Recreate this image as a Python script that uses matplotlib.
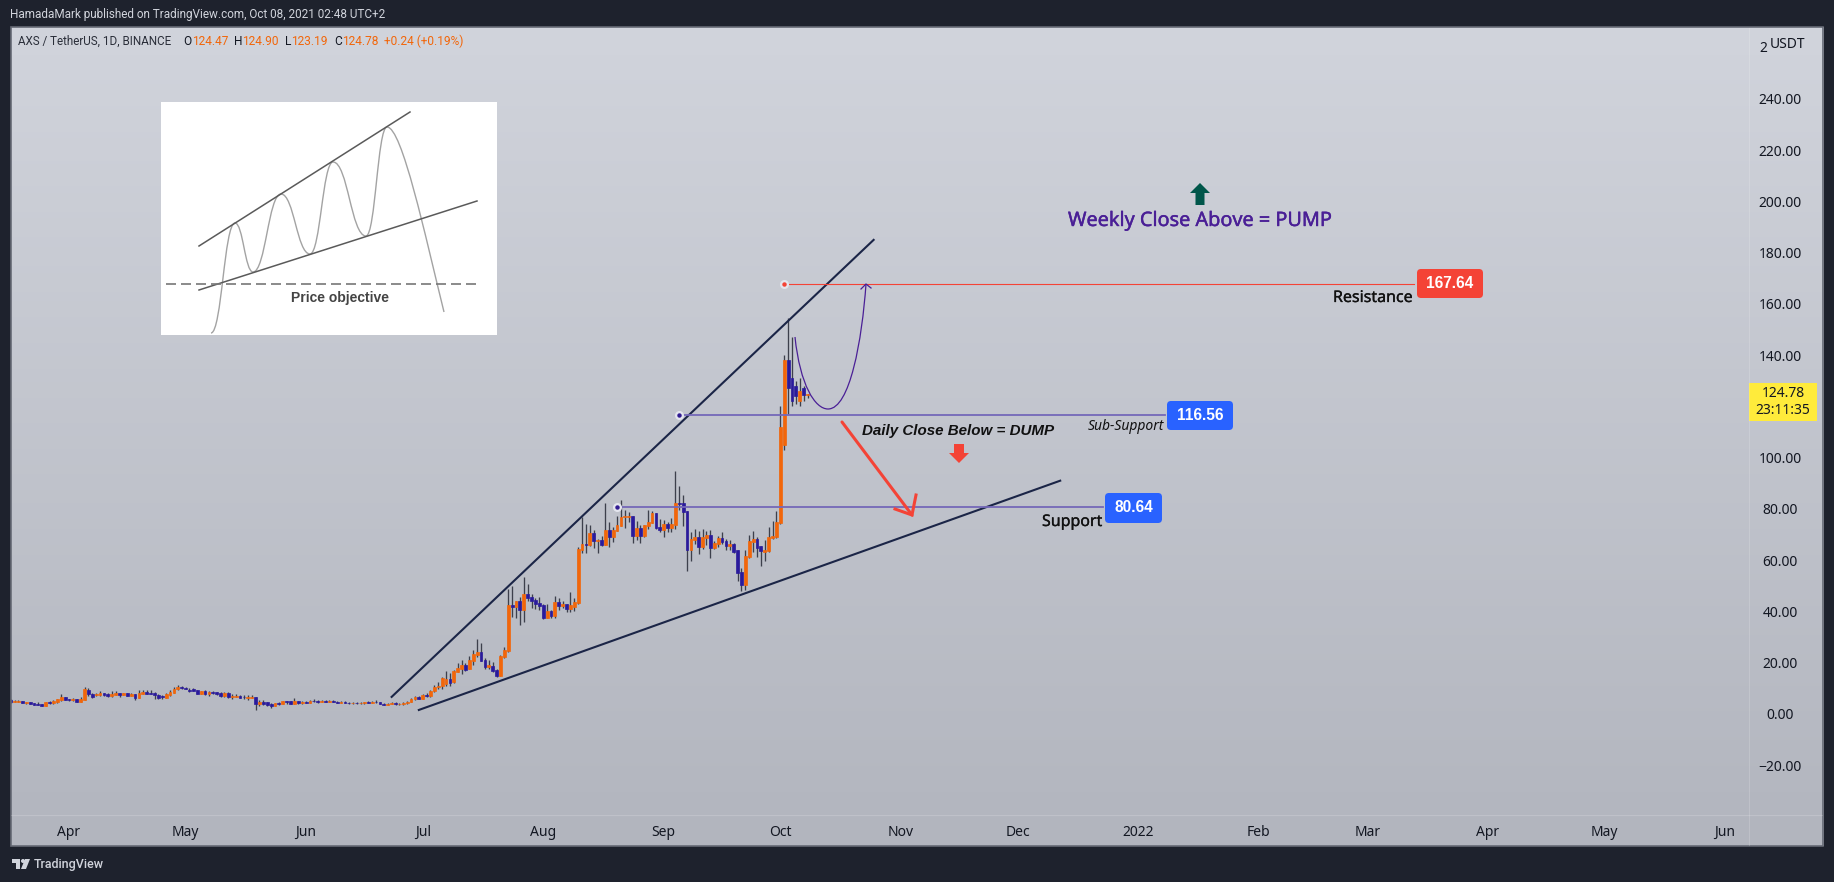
import numpy as np
import pandas as pd
import matplotlib
matplotlib.use("Agg")
import matplotlib.pyplot as plt
import matplotlib.patheffects as pe
from matplotlib.patches import FancyBboxPatch, Rectangle, Polygon, PathPatch, Circle
from matplotlib.path import Path

W, H = 1834, 882
plt.rcParams["font.family"] = ["Noto Sans", "DejaVu Sans"]
NARROW = ["Roboto", "DejaVu Sans"]
HEAVY = ["Liberation Sans", "DejaVu Sans"]

# daily AXS/USDT candles
opens = [
    5.4,4.75,4.75,5.0,4.35,4.5,4.2,3.85,3.85,3.2, 4.6,4.35,4.6,5.5,6.4,5.8,5.4,5.8,4.75,5.5,
    9.3,7.9,7.2,7.3,8.0,7.6,6.95,7.3,8.0,7.3, 8.0,7.1,7.7,6.3,7.9,8.5,8.1,8.1,7.3,6.8,
    6.3,7.2,8.0,9.5,10.6,10.0,9.3,9.7,9.3,7.9, 8.9,7.7,8.6,8.4,8.1,6.95,8.1,6.7,6.7,7.1,
    6.7,6.3,6.3,6.4,3.85,4.6,4.5,4.0,3.2,4.1, 4.0,4.9,5.0,4.0,4.9,
    4.2,4.7,4.4,5.0,4.9,4.6,5.0,4.8,5.1,4.8, 4.4,4.8,4.4,4.2,4.4,4.1,4.3,4.5,4.3,4.8,
    4.5,4.0,3.6,3.9,4.4,3.7,3.9,4.2,4.8,5.7, 6.4,5.9,7.2,6.9,9.0,10.4,10.9,
    11.8,13.5,12.5,16.5,17.5,19.1,17.4,20.8,23.0,24.1, 21.0,18.4,18.7,17.1,14.8,22.3,24.5,42.5,41.7,44.0,
    40.5,46.8,45.6,44.4,43.3,42.5,37.5,40.2,38.2,43.7, 42.1,42.9,40.9,41.7,43.3,64.0,66.3,65.9,70.7,
    67.6,67.9,65.9,71.8,69.0,71.4,73.4,76.7,77.0,77.2, 69.4,72.5,69.4,73.3,74.5,78.4,72.9,71.8,74.1,72.5,
    73.7,82.3,82.3,79.2,64.0,67.9,69.0,65.1,68.6,69.8, 64.7,66.3,68.6,67.5,65.5,66.3,64.0,55.4,50.3,61.2,
    67.1,68.3,65.5,63.2,63.6,68.6,69.0,
    74.4,105.0,138.0,131.0,128.0,122.0,127.0,124.47,
]
highs = [
    5.8,5.4,5.4,5.0,4.6,4.5,4.2,4.5,3.85,4.5, 5.0,5.4,5.9,7.7,6.4,5.8,6.2,5.8,6.6,10.6,
    9.95,8.25,8.25,8.9,8.25,8.0,8.9,8.9,8.0,8.0, 8.0,8.0,7.7,9.3,9.3,9.3,9.3,8.6,7.7,7.3,
    8.0,9.3,10.3,11.3,11.0,10.6,9.95,10.0,9.3,8.8, 9.3,9.0,9.0,8.6,8.5,8.5,8.5,7.7,7.6,7.3,
    7.3,7.3,7.3,6.4,5.25,5.4,4.75,4.35,4.1,4.6, 4.9,4.9,5.0,6.2,4.9,
    4.9,5.0,5.2,5.6,5.2,5.2,5.3,5.2,5.4,5.0, 5.0,5.1,4.7,4.6,4.8,4.5,4.7,4.9,5.0,5.2,
    4.8,4.3,4.2,4.6,4.5,4.2,4.5,5.0,6.0,6.8, 7.0,7.6,8.2,9.4,11.2,12.5,14.4,
    16.7,15.8,17.0,19.7,21.0,19.7,22.6,24.9,29.2,27.7, 21.7,21.0,20.4,17.5,23.0,26.1,48.9,49.9,44.0,45.6,
    53.4,50.6,46.8,45.1,45.6,42.9,42.9,40.5,46.0,45.1, 44.0,42.9,47.6,45.2,65.1,76.8,74.1,73.7,71.8,
    68.4,69.4,82.3,74.9,72.9,77.2,83.5,79.6,78.8,77.2, 75.3,73.7,73.7,79.6,79.2,78.4,76.0,75.7,74.9,76.4,
    94.8,88.9,85.4,79.2,71.0,72.2,71.4,72.2,71.4,71.8, 67.5,69.4,71.0,68.2,67.9,66.7,64.0,56.9,64.0,69.8,
    71.4,69.0,65.5,67.9,72.9,75.3,79.2,
    120.0,140.0,154.5,147.0,130.0,131.0,128.0,124.9,
]
lows = [
    4.35,4.5,4.5,4.35,3.85,3.85,3.6,3.3,3.2,3.2, 3.7,3.85,4.35,5.1,5.5,5.0,5.0,4.75,4.6,5.5,
    7.1,6.3,7.1,7.1,6.8,6.4,6.7,7.3,6.7,7.3, 7.1,6.95,5.5,6.2,7.9,7.9,7.9,5.8,5.9,5.8,
    6.2,6.95,8.0,9.3,9.6,9.5,8.5,9.0,7.7,7.9, 7.2,6.95,7.7,7.3,6.6,6.4,6.0,5.8,6.4,6.0,
    5.8,5.4,6.2,1.5,3.05,3.3,3.05,2.4,3.2,3.45, 4.0,3.85,3.85,3.85,3.85,
    4.0,4.3,4.3,4.7,4.4,4.5,4.6,4.5,4.7,4.2, 4.3,4.2,4.0,3.9,4.0,3.8,4.0,4.2,4.1,4.4,
    3.8,3.4,3.3,3.8,3.5,3.4,3.6,4.0,4.6,5.3, 5.6,5.7,6.6,6.7,8.5,9.8,9.8,
    11.0,10.9,12.0,16.2,15.6,16.9,17.4,19.1,22.3,20.5, 17.4,17.4,16.3,14.3,14.8,21.7,24.3,37.9,37.5,34.7,
    35.9,44.2,41.2,41.1,40.5,37.0,37.4,37.4,37.5,40.5, 41.3,39.8,39.8,40.1,42.9,62.8,62.8,65.5,64.7,
    62.8,65.5,65.9,65.0,67.1,71.4,73.4,72.5,74.9,66.7, 67.9,66.7,69.0,72.2,74.4,72.2,71.0,69.0,71.0,71.0,
    72.2,79.6,73.3,55.7,59.7,66.3,62.4,64.3,65.9,60.8, 64.3,65.1,66.3,64.0,64.0,62.8,51.9,47.9,48.3,60.8,
    63.2,61.2,57.7,59.7,63.2,68.2,68.6,
    73.9,103.0,117.0,120.0,121.0,120.0,122.0,123.19,
]
closes = [
    4.6,5.0,5.0,4.35,4.6,3.85,3.6,3.6,3.2,4.5, 4.2,5.0,5.65,6.6,5.5,5.5,5.8,4.75,5.8,9.7,
    7.7,6.7,7.9,8.0,7.3,6.95,7.6,8.0,7.5,8.0, 7.1,7.7,6.3,8.0,8.5,7.9,7.9,7.2,6.2,6.4,
    7.7,8.5,9.55,10.6,9.9,9.7,8.9,9.0,7.7,8.8, 7.6,8.6,8.1,7.6,6.95,8.1,6.4,6.95,6.95,6.3,
    6.4,6.6,6.6,3.85,4.6,4.0,3.6,3.2,4.1,3.85, 4.9,4.6,3.85,5.0,4.2,
    4.7,4.4,5.0,4.9,4.6,5.0,4.8,5.1,4.8,4.4, 4.8,4.4,4.2,4.4,4.1,4.3,4.5,4.3,4.8,4.5,
    4.0,3.6,3.9,4.4,3.7,3.9,4.2,4.8,5.7,6.4, 5.9,7.2,6.9,9.0,10.4,10.9,13.8,
    13.5,12.0,16.7,17.8,18.9,17.1,21.0,23.4,24.1,20.6, 18.4,18.9,16.7,14.8,22.6,24.9,42.5,41.8,44.0,40.5,
    46.8,45.2,44.0,42.9,42.1,37.4,40.2,38.2,43.7,42.1, 42.9,40.9,42.5,43.7,64.3,66.3,66.0,70.5,67.6,
    67.9,65.9,71.8,69.0,71.8,73.7,76.8,77.2,77.2,69.4, 72.5,69.4,73.7,74.9,78.4,72.5,71.8,74.1,72.5,74.1,
    82.3,81.9,78.8,64.0,68.3,69.0,65.1,69.0,69.8,64.7, 66.7,68.6,67.1,65.5,66.3,63.2,55.0,50.3,61.6,67.5,
    68.3,64.7,63.6,64.0,69.0,69.4,74.9,
    112.0,138.0,127.0,122.0,124.0,126.0,124.5,124.78,
]
first_day = "2021-03-17"

# 120.00 is hidden behind the last-price box in the reference
price_ticks = [-20, 0, 20, 40, 60, 80, 100, 140, 160, 180, 200, 220, 240]
month_dates = ["2021-04-01", "2021-05-01", "2021-06-01", "2021-07-01", "2021-08-01", "2021-09-01",
               "2021-10-01", "2021-11-01", "2021-12-01", "2022-01-01", "2022-02-01", "2022-03-01",
               "2022-04-01", "2022-05-01", "2022-06-01"]
month_labels = ["Apr", "May", "Jun", "Jul", "Aug", "Sep", "Oct", "Nov", "Dec", "2022",
                "Feb", "Mar", "Apr", "May", "Jun"]

# drawn lines: (start day, start price), (end day, end price)
upper_trend_days = ["2021-06-23", "2021-10-25"]
upper_trend_prices = [6.6, 185.0]
lower_trend_days = ["2021-06-30", "2021-12-12"]
lower_trend_prices = [1.5, 91.0]

resistance = 167.64
resistance_days = ["2021-10-02", "2022-03-13"]
sub_support = 116.56
sub_support_days = ["2021-09-05", "2022-01-08"]
support = 80.64
support_days = ["2021-08-20", "2021-12-23"]

ORANGE = "#f2660a"
BLUE = "#2a1a9c"
WICK = "#3d404c"
NAVY = "#1b2547"
INK = "#131722"
RED = "#f44336"
TAG_BLUE = "#2962ff"
PURPLE = "#4a1f96"
LEVEL = "#7468b8"

base = pd.Timestamp("2021-04-01")


def to_x(days):
    return (pd.to_datetime(days) - base).days


dates = pd.date_range(first_day, periods=len(opens))
x = (dates - base).days.values
o, h, l, c = map(np.array, (opens, highs, lows, closes))
up = c >= o

fig = plt.figure(figsize=(W / 100, H / 100), dpi=100, facecolor="#1e222d")

# gradient panel behind everything
bg = fig.add_axes([11 / W, 1 - 846 / H, (1823 - 11) / W, (846 - 27) / H], zorder=0)
bg.imshow(np.linspace(0, 1, 256).reshape(-1, 1), aspect="auto", vmin=0, vmax=1,
          cmap=matplotlib.colors.LinearSegmentedColormap.from_list("tv", ["#d1d4dc", "#b2b5be"]))
bg.axis("off")

ax = fig.add_axes([11 / W, 1 - 815 / H, (1749 - 11) / W, (815 - 27) / H], zorder=1)
ax.patch.set_alpha(0)
ax.set_xlim(-14.92, 432.2)
ax.set_ylim(-39.5, 268.1)
for s in ax.spines.values():
    s.set_visible(False)

ax.vlines(x, l, h, color=WICK, lw=0.95, zorder=2)
ax.bar(x[up], (c - o)[up], bottom=o[up], width=0.72, color=ORANGE, edgecolor=ORANGE, lw=0.5, zorder=3)
ax.bar(x[~up], (o - c)[~up], bottom=c[~up], width=0.72, color=BLUE, edgecolor=BLUE, lw=0.5, zorder=3)

ax.plot(to_x(upper_trend_days), upper_trend_prices, color=NAVY, lw=1.5, zorder=4)
ax.plot(to_x(lower_trend_days), lower_trend_prices, color=NAVY, lw=1.5, zorder=4)
ax.plot(to_x(resistance_days), [resistance] * 2, color=RED, lw=0.8, zorder=4)
ax.plot(to_x(sub_support_days), [sub_support] * 2, color=LEVEL, lw=1.3, zorder=4)
ax.plot(to_x(support_days), [support] * 2, color=LEVEL, lw=1.3, zorder=4)

for days, level, col in [(resistance_days, resistance, RED), (sub_support_days, sub_support, "#311b92"),
                         (support_days, support, "#311b92")]:
    ax.plot(to_x(days)[0], level, "o", ms=6.5, mfc="#e4e5ee", mec="none", zorder=5)
    ax.plot(to_x(days)[0], level, "o", ms=3.2, mfc=col, mec="none", zorder=6)

ax.set_yticks(price_ticks)
ax.set_yticklabels([f"{v:.2f}".replace("-", "\u2212") for v in price_ticks])
ax.yaxis.tick_right()
ax.tick_params(axis="y", length=0, pad=22.3, labelsize=10, labelcolor=INK)
for t in ax.get_yticklabels():
    t.set_ha("center")
ax.set_xticks(to_x(month_dates))
ax.set_xticklabels(month_labels)
ax.tick_params(axis="x", length=0, pad=7, labelsize=10, labelcolor=INK)
for t in ax.get_xticklabels():
    if t.get_text() == "2022":
        t.set_fontweight("bold")

# everything else is laid out in screen pixels
ov = fig.add_axes([0, 0, 1, 1], zorder=2)
ov.set_xlim(0, W)
ov.set_ylim(H, 0)
ov.axis("off")
ov.patch.set_alpha(0)

ov.add_patch(Rectangle((10.5, 27), 1812.5, 819, fc="none", ec="#666a75", lw=1.2))
ov.plot([1749, 1749], [28, 845], color="white", alpha=0.16, lw=0.8)
ov.plot([11, 1822], [815, 815], color="white", alpha=0.16, lw=0.8)


def label(px, py, s, color=INK, size=10, ha="left", va="center", **kw):
    return ov.text(px, py, s, color=color, fontsize=size, ha=ha, va=va, **kw)


thick = [pe.withStroke(linewidth=0.2, foreground="#111111")]
thick_purple = [pe.withStroke(linewidth=0.3, foreground=PURPLE)]

label(10, 14.5, "HamadaMark published on TradingView.com, Oct 08, 2021 02:48 UTC+2", color="#d1d4dc", size=8.5,
      family=NARROW)
label(18, 41.5, "AXS / TetherUS, 1D, BINANCE", size=8.4, color="#2a2e39", family=NARROW)
for px, s, col in [(183, "O", INK), (192, "124.47", ORANGE), (234, "H", INK), (242, "124.90", ORANGE),
                   (285, "L", INK), (291, "123.19", ORANGE), (334, "C", INK),
                   (342, "124.78", ORANGE), (384, "+0.24 (+0.19%)", ORANGE)]:
    label(px, 41.5, s, color=col, size=8.6, family=NARROW)
label(1759, 49, "2", size=10)
label(1770, 44, "USDT", size=10)

# current price box
ov.add_patch(Rectangle((1749, 383), 68, 38, fc="#ffeb3b", ec="none"))
label(1783, 393.5, f"{closes[-1]:.2f}", size=10, ha="center")
label(1783, 411, "23:11:35", size=10, ha="center")


def price_tag(x0, x1, y0, y1, value, color):
    ov.add_patch(FancyBboxPatch((x0, y0), x1 - x0, y1 - y0, boxstyle="round,pad=0,rounding_size=4",
                                fc=color, ec="none"))
    label((x0 + x1) / 2, (y0 + y1) / 2, f"{value:.2f}", color="white", size=11.2, ha="center",
          fontweight="bold", family=HEAVY)


price_tag(1417, 1483, 269, 298, resistance, RED)
price_tag(1167, 1233, 401, 430, sub_support, TAG_BLUE)
price_tag(1105, 1162, 493, 523, support, TAG_BLUE)

label(1333, 298, "Resistance", color="#111111", size=11.5, path_effects=thick)
label(1042, 522, "Support", color="#111111", size=11.5, path_effects=thick)
label(1088, 427, "Sub-Support", color="#111111", size=10, style="italic")
label(862, 431, "Daily Close Below = DUMP", color="#111111", size=10.9, style="italic", fontweight="bold",
      family=HEAVY)
label(1068, 221, "Weekly Close Above = PUMP", color=PURPLE, size=14.3, path_effects=thick_purple)

# block arrows
ov.add_patch(Polygon([(1200, 183), (1210, 193), (1204.5, 193), (1204.5, 205), (1195.5, 205), (1195.5, 193), (1190, 193)],
                     fc="#00564a", ec="none"))
ov.add_patch(Polygon([(959, 463), (969, 453), (964, 453), (964, 444), (954, 444), (954, 453), (949, 453)],
                     fc=RED, ec="none"))

# red arrow towards support
ov.plot([842, 912], [422, 515], color=RED, lw=2.2, solid_capstyle="round")
ov.plot([895, 912, 916], [509, 515, 495], color=RED, lw=2.2, solid_joinstyle="miter")

# purple path projection
curve = Path([(795, 337), (800, 385), (815, 409), (828, 409), (850, 409), (862, 340), (866, 284)],
             [Path.MOVETO, Path.CURVE4, Path.CURVE4, Path.CURVE4, Path.CURVE4, Path.CURVE4, Path.CURVE4])
ov.add_patch(PathPatch(curve, fc="none", ec=PURPLE, lw=0.9))
ov.plot([861, 866, 871], [289, 284, 288], color=PURPLE, lw=0.9)

# pattern sketch in the white box
ov.add_patch(Rectangle((161, 102), 336, 232.5, fc="white", ec="none"))
ov.plot([199, 410], [246, 112], color="#5a5a5a", lw=1.1)
ov.plot([199, 477], [290, 201], color="#5a5a5a", lw=1.1)
ov.plot([166, 477], [284, 284], color="#777777", lw=1.2, dashes=(6, 3))
sketch = [(211, 333), (235, 223), (253, 272), (281, 194), (310, 254), (333, 162), (366, 236), (387, 127)]
verts, codes = [sketch[0]], [Path.MOVETO]
for (x0, y0), (x1, y1) in zip(sketch[:-1], sketch[1:]):
    dx = (x1 - x0) * 0.45
    verts += [(x0 + dx, y0), (x1 - dx, y1), (x1, y1)]
    codes += [Path.CURVE4] * 3
verts += [(402, 127), (425, 235), (444, 312)]
codes += [Path.CURVE4] * 3
ov.add_patch(PathPatch(Path(verts, codes), fc="none", ec="#a3a3a3", lw=1.0))
label(340, 298, "Price objective", color="#444444", size=10, ha="center", fontweight="bold", family=HEAVY)

# TradingView mark in the bottom strip
ov.add_patch(Polygon([(12, 859), (20, 859), (20, 869), (16, 869), (16, 863), (12, 863)], fc="#d1d4dc", ec="none"))
ov.add_patch(Circle((23, 861), 2, fc="#d1d4dc", ec="none"))
ov.add_patch(Polygon([(25, 859), (30, 859), (26, 869), (21, 869)], fc="#d1d4dc", ec="none"))
label(34, 864.5, "TradingView", color="#d1d4dc", size=9, family=NARROW, fontweight="medium")

fig.savefig("out.png", dpi=100, facecolor=fig.get_facecolor())
